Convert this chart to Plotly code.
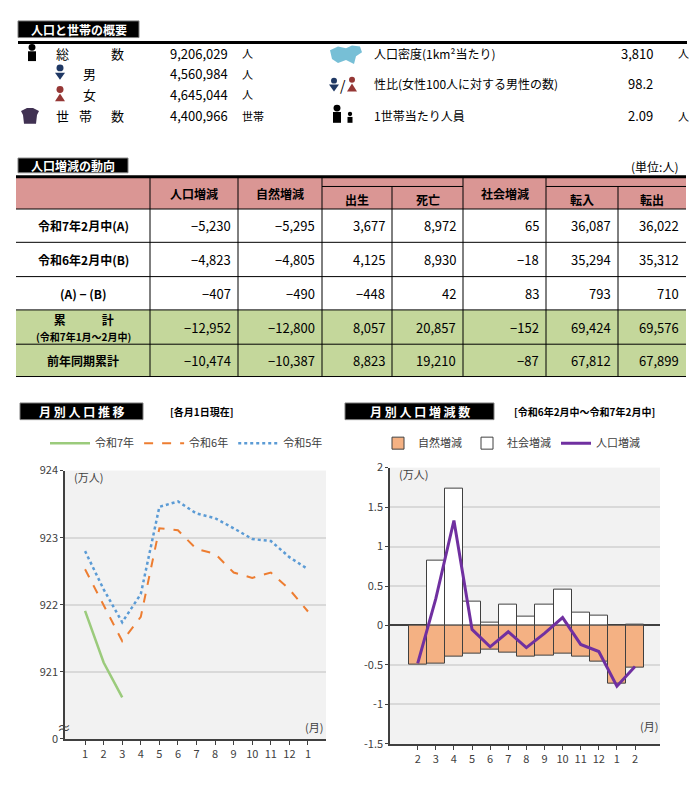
import plotly.graph_objects as go

W, H = 681, 786
OFF = 8
def X(p): return (p - OFF) / W
def Y(p): return 1 - (p - OFF) / H

FONT = "Noto Sans CJK JP"

# ---------- data ----------
summary_left = [("総　　　数", "9,206,029", "人"), ("男", "4,560,984", "人"),
                ("女", "4,645,044", "人"), ("世　帯　数", "4,400,966", "世帯")]
summary_right = [("人口密度(1km²当たり)", "3,810", "人"),
                 ("性比(女性100人に対する男性の数)", "98.2", ""),
                 ("1世帯当たり人員", "2.09", "人")]

row_labels = ["令和7年2月中(A)", "令和6年2月中(B)", "(A) − (B)",
              "累　　　計<br><span style='font-size:10px'>(令和7年1月～2月中)</span>", "前年同期累計"]
row_values = [
    ["−5,230", "−5,295", "3,677", "8,972", "65", "36,087", "36,022"],
    ["−4,823", "−4,805", "4,125", "8,930", "−18", "35,294", "35,312"],
    ["−407", "−490", "−448", "42", "83", "793", "710"],
    ["−12,952", "−12,800", "8,057", "20,857", "−152", "69,424", "69,576"],
    ["−10,474", "−10,387", "8,823", "19,210", "−87", "67,812", "67,899"],
]

months_left = ["1", "2", "3", "4", "5", "6", "7", "8", "9", "10", "11", "12", "1"]
r7 = [921.91, 921.14, 920.62]
r6 = [922.53, 921.99, 921.46, 921.82, 923.14, 923.11, 922.83, 922.76, 922.48, 922.40, 922.48, 922.23, 921.90]
r5 = [922.80, 922.23, 921.74, 922.16, 923.46, 923.54, 923.36, 923.29, 923.14, 922.98, 922.95, 922.71, 922.53]

months_right = ["2", "3", "4", "5", "6", "7", "8", "9", "10", "11", "12", "1", "2"]
natural = [-0.49, -0.48, -0.39, -0.36, -0.30, -0.35, -0.39, -0.38, -0.36, -0.40, -0.46, -0.74, -0.53]
social = [-0.01, 0.82, 1.73, 0.30, 0.03, 0.26, 0.11, 0.27, 0.46, 0.16, 0.13, -0.02, 0.01]
total = [-0.48, 0.34, 1.33, -0.05, -0.27, -0.08, -0.28, -0.10, 0.10, -0.24, -0.33, -0.77, -0.52]

fig = go.Figure()
idxL = list(range(len(months_left)))
idxR = list(range(len(months_right)))

# ---------- left chart ----------
fig.add_trace(go.Scatter(x=idxL[:len(r7)], y=r7, mode="lines", name="令和7年",
                         line=dict(color="#9BCB7C", width=2.5), xaxis="x", yaxis="y", legend="legend"))
fig.add_trace(go.Scatter(x=idxL, y=r6, mode="lines", name="令和6年",
                         line=dict(color="#ED7D31", width=2, dash="dash"), xaxis="x", yaxis="y", legend="legend"))
fig.add_trace(go.Scatter(x=idxL, y=r5, mode="lines", name="令和5年",
                         line=dict(color="#5B9BD5", width=2.5, dash="dot"), xaxis="x", yaxis="y", legend="legend"))

# ---------- right chart ----------
fig.add_trace(go.Bar(x=idxR, y=social, name="社会増減", marker=dict(color="white", line=dict(color="#404040", width=1)),
                     width=1, xaxis="x2", yaxis="y2", legend="legend2", legendrank=2))
fig.add_trace(go.Bar(x=idxR, y=natural, name="自然増減", marker=dict(color="#F4B183", line=dict(color="#404040", width=1)),
                     width=1, xaxis="x2", yaxis="y2", legend="legend2", legendrank=1))
fig.add_trace(go.Scatter(x=idxR, y=total, mode="lines", name="人口増減",
                         line=dict(color="#7030A0", width=3), xaxis="x2", yaxis="y2", legend="legend2", legendrank=3))

tickfont = dict(family=FONT, size=11, color="#404040")
fig.update_layout(
    width=W, height=H, margin=dict(l=0, r=0, t=0, b=0),
    paper_bgcolor="white", plot_bgcolor="#F2F2F2",
    font=dict(family=FONT, color="black"),
    barmode="overlay", bargap=0,
    xaxis=dict(domain=[X(65), X(326)], range=[-1.08, 12.97], tickvals=idxL, ticktext=months_left,
               showgrid=False, zeroline=False, showline=True, linecolor="#404040", linewidth=1.5,
               ticks="outside", ticklen=4, tickcolor="#404040", tickfont=tickfont, anchor="y"),
    yaxis=dict(domain=[Y(745), Y(471)], range=[920, 924], tickvals=[920, 921, 922, 923, 924],
               ticktext=["0", "921", "922", "923", "924"], showgrid=True, gridcolor="#D9D9D9", gridwidth=1.5,
               zeroline=False, showline=True, linecolor="#404040", linewidth=1.5, ticks="outside", ticklen=3,
               tickcolor="#404040", tickfont=tickfont, anchor="x"),
    xaxis2=dict(domain=[X(390), X(660)], range=[-1.53, 13.38], tickvals=idxR, ticktext=months_right,
                showgrid=False, zeroline=False, showline=True, linecolor="#404040", linewidth=1.5,
                ticks="outside", ticklen=4, tickcolor="#404040", tickfont=tickfont, anchor="y2"),
    yaxis2=dict(domain=[Y(750), Y(468)], range=[-1.5, 2], tickvals=[-1.5, -1, -0.5, 0, 0.5, 1, 1.5, 2],
                ticktext=["-1.5", "-1", "-0.5", "0", "0.5", "1", "1.5", "2"],
                showgrid=True, gridcolor="#D9D9D9", gridwidth=1.5, zeroline=True, zerolinecolor="#404040",
                zerolinewidth=1.5, showline=True, linecolor="#404040", linewidth=1.5, ticks="outside", ticklen=3,
                tickcolor="#404040", tickfont=tickfont, anchor="x2"),
    legend=dict(orientation="h", x=X(45), y=Y(443), xanchor="left", yanchor="middle",
                font=dict(family=FONT, size=11, color="#404040"), bgcolor="rgba(0,0,0,0)", itemwidth=40),
    legend2=dict(orientation="h", x=X(378), y=Y(443), xanchor="left", yanchor="middle",
                 font=dict(family=FONT, size=11, color="#404040"), bgcolor="rgba(0,0,0,0)", itemwidth=30),
)

shapes, ann = [], []
def text(x, y, s, size=12, anchor="left", color="black", bold=False, xanchor=None):
    if bold:
        s = "<b>" + s + "</b>"
    ann.append(dict(x=X(x), y=Y(y), xref="paper", yref="paper", text=s, showarrow=False,
                    xanchor=xanchor or anchor, yanchor="middle",
                    font=dict(family=FONT, size=size, color=color)))
def rect(x0, y0, x1, y1, fill=None, line=None, lw=1):
    shapes.append(dict(type="rect", xref="paper", yref="paper", x0=X(x0), x1=X(x1), y0=Y(y1), y1=Y(y0),
                       fillcolor=fill or "rgba(0,0,0,0)", line=dict(color=line or "rgba(0,0,0,0)", width=lw if line else 0),
                       layer="above"))
def hline(x0, x1, y, w=1, c="black"):
    shapes.append(dict(type="line", xref="paper", yref="paper", x0=X(x0), x1=X(x1), y0=Y(y), y1=Y(y),
                       line=dict(color=c, width=w), layer="above"))
def vline(x, y0, y1, w=1, c="black"):
    shapes.append(dict(type="line", xref="paper", yref="paper", x0=X(x), x1=X(x), y0=Y(y0), y1=Y(y1),
                       line=dict(color=c, width=w), layer="above"))
def circ(cx, cy, r, c):
    shapes.append(dict(type="circle", xref="paper", yref="paper", x0=X(cx - r), x1=X(cx + r), y0=Y(cy + r), y1=Y(cy - r),
                       fillcolor=c, line=dict(width=0), layer="above"))
def path(pts, c):
    d = "M " + " L ".join(f"{X(a)},{Y(b)}" for a, b in pts) + " Z"
    shapes.append(dict(type="path", xref="paper", yref="paper", path=d, fillcolor=c, line=dict(width=0), layer="above"))
def header(x0, y0, x1, y1, s, size=12):
    rect(x0, y0, x1, y1, fill="black", line="#808080", lw=1)
    text((x0 + x1) / 2, (y0 + y1) / 2, s, size=size, color="white", bold=True, xanchor="center")

# ---------- section 1 ----------
header(18, 12, 139, 29, "人口と世帯の概要", 12)
hline(18, 687, 34, w=3)
ys = [45, 66, 87, 109]
circ(32, 39, 3.5, "black"); rect(28, 43, 36, 53, fill="black")
circ(60, 60, 3.5, "#1F3864"); path([(55, 65), (65, 65), (60, 72)], "#1F3864")
circ(60, 82, 3.5, "#953735"); path([(60, 86), (55, 94), (65, 94)], "#953735")
path([(21, 104), (27, 101), (33, 101), (39, 104), (37, 108), (36, 117), (24, 117), (23, 108)], "#403152")
text(54, ys[0], "総", size=13); text(117, ys[0], "数", size=13, xanchor="center")
text(81, ys[1], "男", size=13); text(81, ys[2], "女", size=13)
text(54, ys[3], "世", size=13); text(85, ys[3], "帯", size=13, xanchor="center"); text(117, ys[3], "数", size=13, xanchor="center")
for i, (lab, val, unit) in enumerate(summary_left):
    text(230, ys[i], val, size=13, xanchor="right")
    text(240, ys[i], unit, size=11)
path([(330, 42), (338, 38), (346, 40), (352, 37), (360, 38), (362, 44), (356, 48), (354, 56),
      (346, 52), (338, 55), (332, 51)], "#77BFD6")
circ(334, 73, 3, "#1F3864"); path([(329, 77), (339, 77), (334, 84)], "#1F3864")
text(343, 77, "/", size=14, xanchor="center")
circ(352, 72, 3, "#953735"); path([(352, 76), (347, 84), (357, 84)], "#953735")
circ(337, 101, 3.5, "black"); rect(333, 105, 341, 116, fill="black")
circ(350, 107, 2.2, "black"); rect(347.5, 110, 352.5, 116, fill="black")
ry = [45, 76, 109]
for i, (lab, val, unit) in enumerate(summary_right):
    text(372, ry[i], lab, size=12)
    text(655, ry[i], val, size=13, xanchor="right")
    if unit:
        text(676, ry[i], unit, size=11)

# ---------- section 2 table ----------
header(18, 152, 128, 167, "人口増減の動向", 12)
text(680, 161, "(単位:人)", size=12, xanchor="right")
cols = [16, 150, 238, 322, 392, 463, 546, 618, 686]
top, hb, sub = 171, 204, 181
rows = [204, 238, 273, 307, 342, 375]
rect(cols[0], top, cols[-1], hb, fill="#DA9694")
rect(cols[0], rows[3], cols[-1], rows[5], fill="#C4D79B")
hline(cols[0], cols[-1], top, w=3)
for r in rows:
    hline(cols[0], cols[-1], r, w=1)
hline(cols[3], cols[5], sub); hline(cols[6], cols[8], sub)
for c in cols[1:-1]:
    if c in (cols[4], cols[7]):
        vline(c, sub, rows[-1])
    else:
        vline(c, top, rows[-1])
text((cols[1] + cols[2]) / 2, 188, "人口増減", bold=True, xanchor="center")
text((cols[2] + cols[3]) / 2, 188, "自然増減", bold=True, xanchor="center")
text((cols[5] + cols[6]) / 2, 188, "社会増減", bold=True, xanchor="center")
for j, s in zip([3, 4, 6, 7], ["出生", "死亡", "転入", "転出"]):
    text((cols[j] + cols[j + 1]) / 2, 194, s, bold=True, xanchor="center")
for i, lab in enumerate(row_labels):
    cy = (rows[i] + rows[i + 1]) / 2
    text((cols[0] + cols[1]) / 2, cy, lab, size=12, bold=True, xanchor="center")
    for j, v in enumerate(row_values[i]):
        text(cols[j + 2] - 5, cy, v, size=13, xanchor="right")

# ---------- chart headers ----------
header(20, 402, 143, 419, "月 別 人 口 推 移", 12)
text(168, 411, "[各月1日現在]", size=10, bold=True)
header(345, 402, 494, 419, "月 別 人 口 増 減 数", 12)
text(512, 411, "[令和6年2月中～令和7年2月中]", size=10, bold=True)

text(72, 478, "(万人)", size=11, color="#404040")
text(325, 733, "(月)", size=11, color="#404040", xanchor="right")
text(64, 733, "≈", size=14, color="#404040", xanchor="center")
text(397, 475, "(万人)", size=11, color="#404040")
text(660, 732, "(月)", size=11, color="#404040", xanchor="right")

fig.update_layout(shapes=shapes, annotations=ann)
fig.write_html("out.html")
